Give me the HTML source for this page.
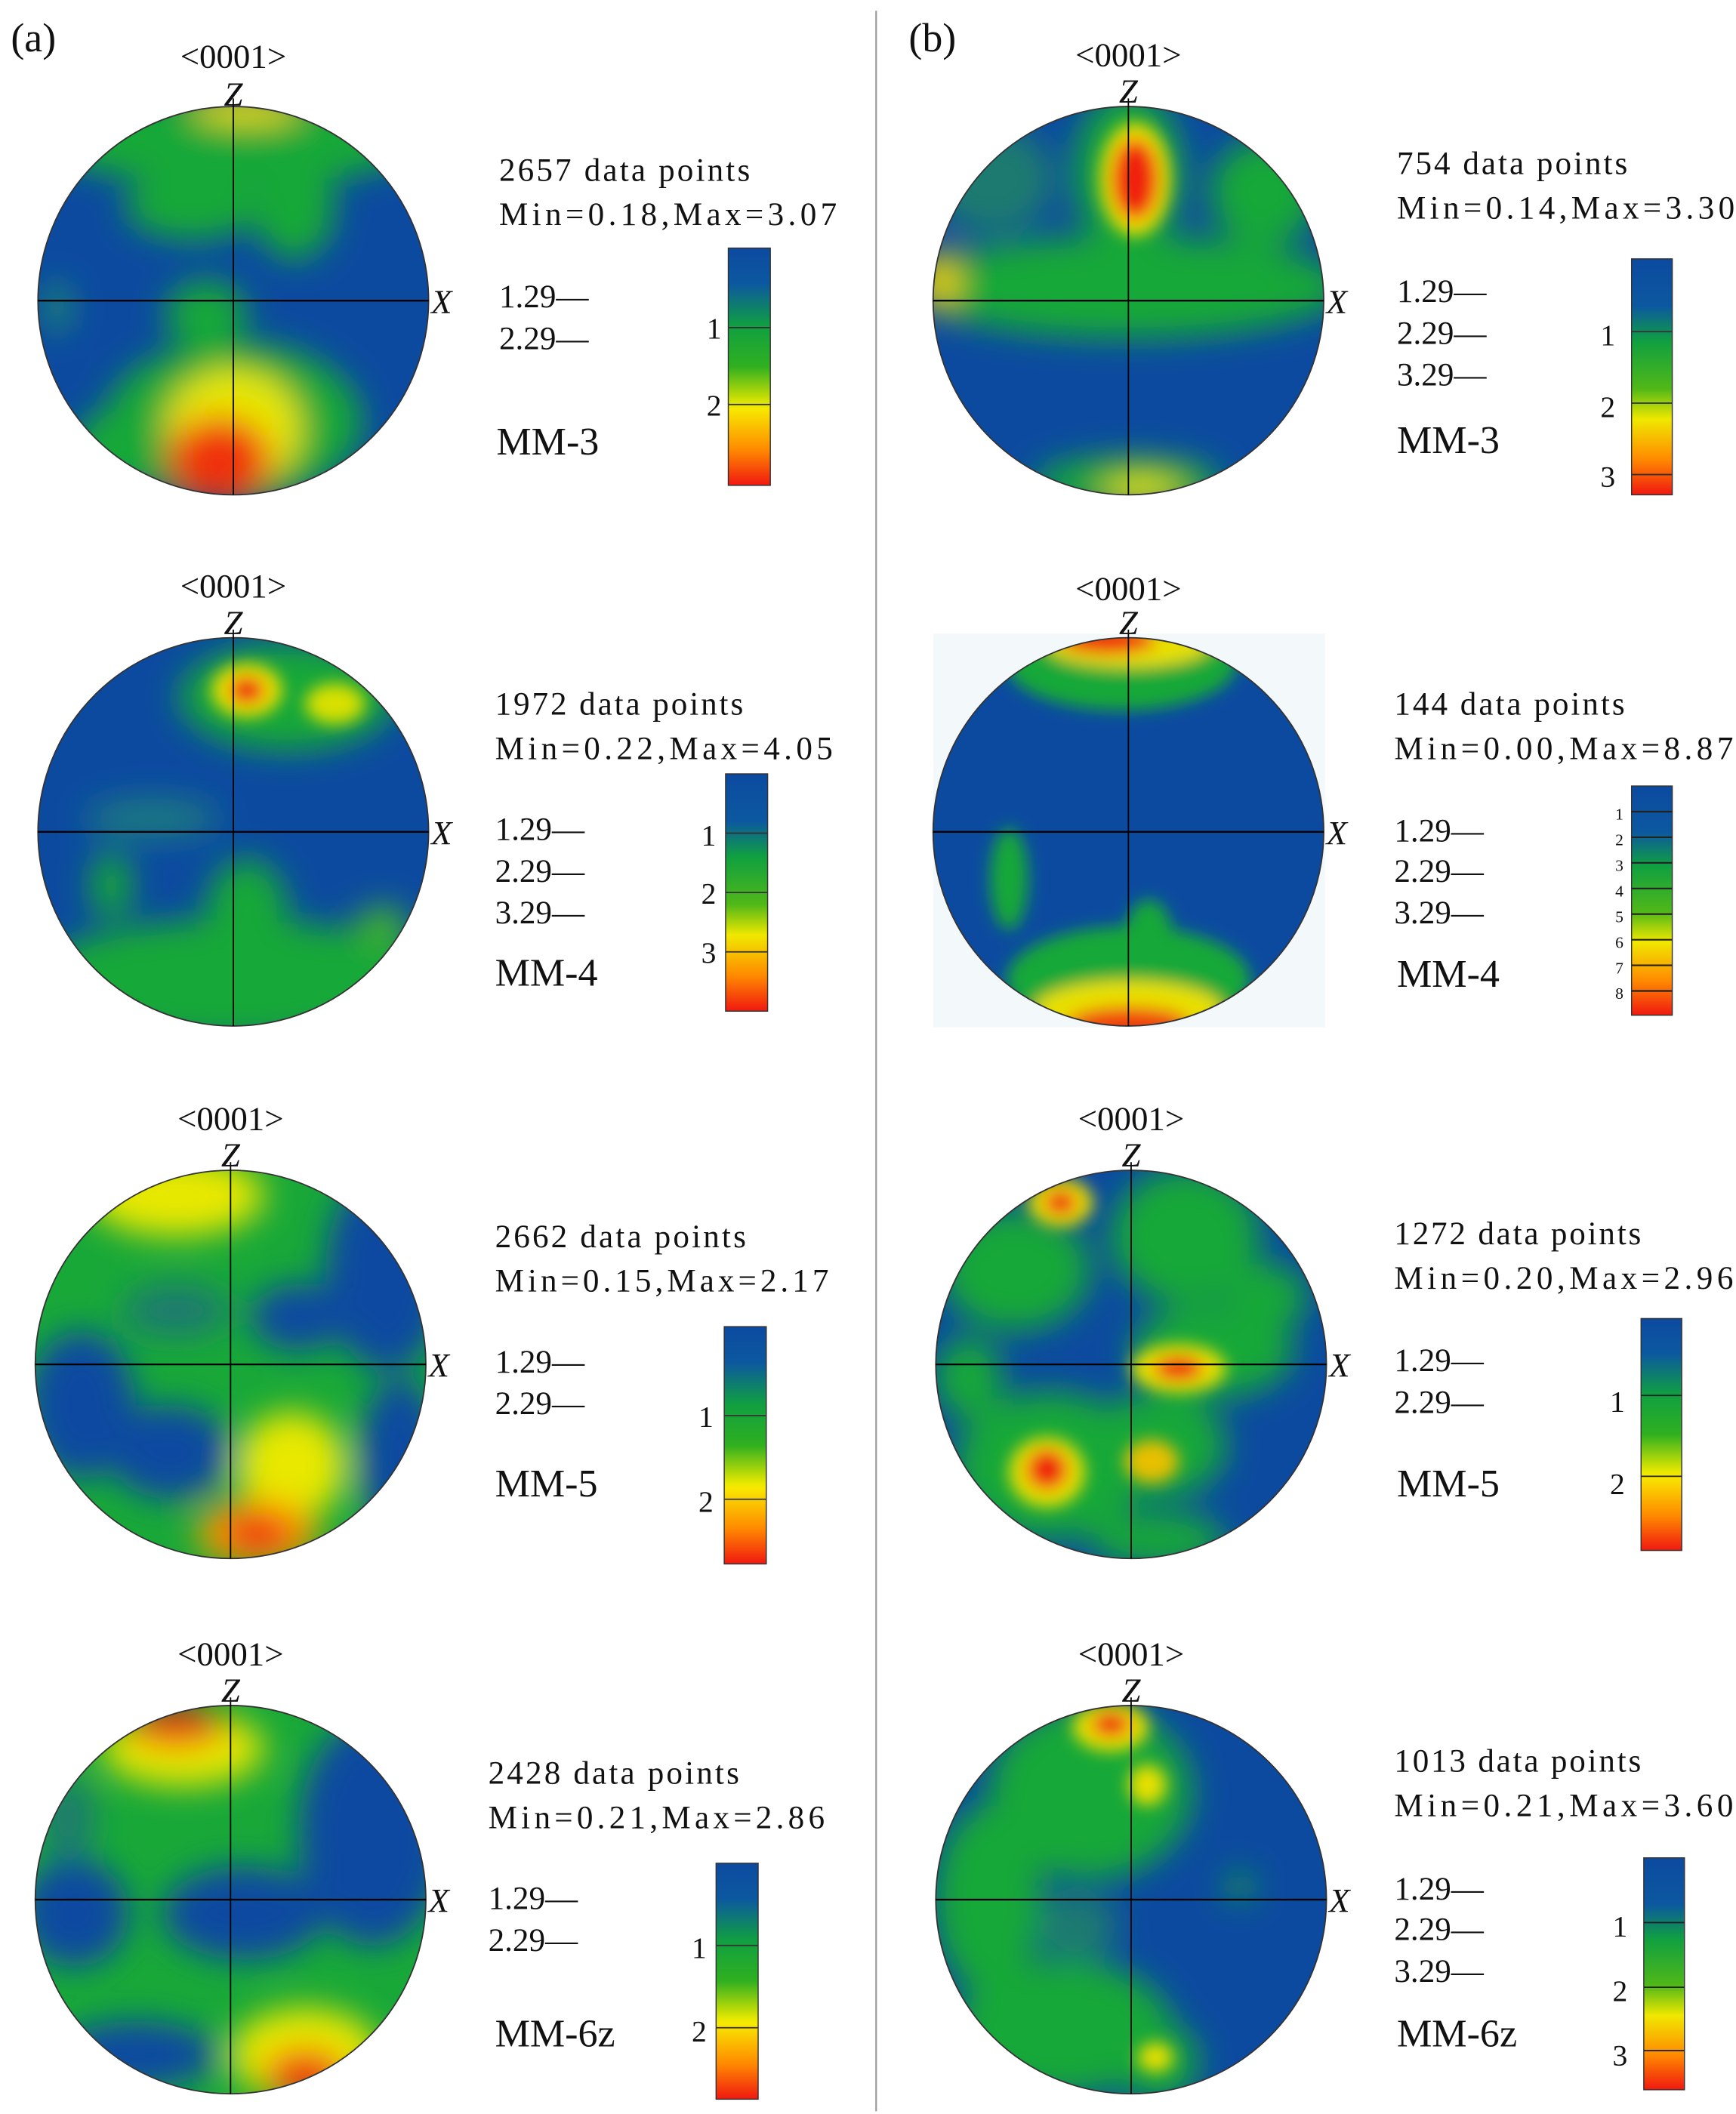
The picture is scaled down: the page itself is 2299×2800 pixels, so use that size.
<!DOCTYPE html>
<html><head><meta charset="utf-8"><style>
html,body{margin:0;padding:0;background:#fff}
svg{display:block}
text{font-family:"Liberation Serif",serif;fill:#111}
</style></head><body>
<svg width="2299" height="2800" viewBox="0 0 1280 1568" preserveAspectRatio="none" xmlns="http://www.w3.org/2000/svg">
<defs>
<filter id="bl" x="-50%" y="-50%" width="200%" height="200%"><feGaussianBlur stdDeviation="12"/></filter>
<filter id="bs" x="-50%" y="-50%" width="200%" height="200%"><feGaussianBlur stdDeviation="6"/></filter>
<clipPath id="cc"><circle cx="0" cy="0" r="144"/></clipPath>
<linearGradient id="cb" x1="0" y1="0" x2="0" y2="1">
<stop offset="0" stop-color="#0c4aa0"/><stop offset="0.15" stop-color="#0c58a0"/><stop offset="0.33" stop-color="#10a040"/><stop offset="0.5" stop-color="#30b020"/><stop offset="0.66" stop-color="#e8e800"/><stop offset="0.68" stop-color="#f8e800"/><stop offset="0.85" stop-color="#ff8a00"/><stop offset="1" stop-color="#f01810"/>
</linearGradient>
<linearGradient id="cb2" x1="0" y1="0" x2="0" y2="1">
<stop offset="0" stop-color="#0c4aa0"/><stop offset="0.2" stop-color="#0c58a0"/><stop offset="0.35" stop-color="#10a040"/><stop offset="0.55" stop-color="#50b818"/><stop offset="0.68" stop-color="#f0e800"/><stop offset="0.85" stop-color="#ff8a00"/><stop offset="1" stop-color="#f01810"/>
</linearGradient>
</defs>
<rect width="1280" height="1568" fill="#fff"/>
<line x1="646" y1="8" x2="646" y2="1566" stroke="#999" stroke-width="1.2"/>
<text x="8" y="38" font-size="30">(a)</text>
<text x="670" y="38" font-size="30">(b)</text>

<!-- a1 -->
<g transform="translate(172,223)"><g clip-path="url(#cc)">
<rect x="-150" y="-150" width="300" height="300" fill="#0c4aa0"/>
<g filter="url(#bl)">
<ellipse cx="0" cy="-120" rx="140" ry="35" fill="#18a838"/>
<ellipse cx="-30" cy="-70" rx="50" ry="25" fill="#18a838"/>
<ellipse cx="45" cy="-70" rx="30" ry="40" fill="#18a838"/>
<ellipse cx="-20" cy="10" rx="30" ry="25" fill="#18a838"/>
<ellipse cx="0" cy="90" rx="95" ry="60" fill="#18a838"/>
<ellipse cx="-80" cy="110" rx="40" ry="30" fill="#18a838"/>
<ellipse cx="-130" cy="5" rx="10" ry="20" fill="#1a8a70"/>
<ellipse cx="0" cy="95" rx="50" ry="45" fill="#e8e800"/>
<ellipse cx="-10" cy="118" rx="38" ry="32" fill="#f03010"/>
<ellipse cx="10" cy="-142" rx="40" ry="10" fill="#f0e000"/>
</g></g>
<circle r="144" fill="none" stroke="#333" stroke-width="1"/>
<line x1="-144" y1="0" x2="144" y2="0" stroke="#000" stroke-width="1.3"/><line x1="0" y1="-150" x2="0" y2="144" stroke="#000" stroke-width="1"/>
<text x="0" y="-173" font-size="25" text-anchor="middle">&lt;0001&gt;</text>
<text x="0" y="-145" font-size="25" font-style="italic" text-anchor="middle">Z</text>
<text x="146" y="9" font-size="25" font-style="italic">X</text></g>
<text x="368" y="134" font-size="24" textLength="185">2657 data points</text>
<text x="368" y="167" font-size="24" textLength="249">Min=0.18,Max=3.07</text>
<text x="368" y="228" font-size="24">1.29—</text><text x="368" y="259" font-size="24">2.29—</text>
<text x="366" y="337" font-size="29">MM-3</text>
<rect x="537" y="184" width="31" height="176" fill="url(#cb)" stroke="#333" stroke-width="0.8"/>
<line x1="537" y1="243" x2="568" y2="243" stroke="#333"/><line x1="537" y1="300" x2="568" y2="300" stroke="#333"/>
<text x="521" y="251" font-size="22">1</text><text x="521" y="308" font-size="22">2</text>

<!-- a2 -->
<g transform="translate(172,617)"><g clip-path="url(#cc)">
<rect x="-150" y="-150" width="300" height="300" fill="#0c4aa0"/>
<g filter="url(#bl)">
<ellipse cx="40" cy="-100" rx="80" ry="40" fill="#18a838"/>
<ellipse cx="0" cy="110" rx="150" ry="45" fill="#18a838"/>
<ellipse cx="10" cy="60" rx="30" ry="40" fill="#18a838"/>
<ellipse cx="-90" cy="40" rx="15" ry="25" fill="#18a838"/>
<ellipse cx="110" cy="70" rx="20" ry="15" fill="#40b030"/>
<ellipse cx="-60" cy="-10" rx="50" ry="15" fill="#1a7a80"/>
</g>
<g filter="url(#bs)">
<ellipse cx="10" cy="-105" rx="26" ry="20" fill="#e8e000"/>
<ellipse cx="75" cy="-95" rx="22" ry="15" fill="#d8e000"/>
<ellipse cx="10" cy="-105" rx="13" ry="10" fill="#f02010"/>
</g></g>
<circle r="144" fill="none" stroke="#333" stroke-width="1"/>
<line x1="-144" y1="0" x2="144" y2="0" stroke="#000" stroke-width="1.3"/><line x1="0" y1="-150" x2="0" y2="144" stroke="#000" stroke-width="1"/>
<text x="0" y="-174" font-size="25" text-anchor="middle">&lt;0001&gt;</text>
<text x="0" y="-147" font-size="25" font-style="italic" text-anchor="middle">Z</text>
<text x="146" y="9" font-size="25" font-style="italic">X</text></g>
<text x="365" y="530" font-size="24" textLength="183">1972 data points</text>
<text x="365" y="563" font-size="24" textLength="249">Min=0.22,Max=4.05</text>
<text x="365" y="623" font-size="24">1.29—</text><text x="365" y="654" font-size="24">2.29—</text><text x="365" y="685" font-size="24">3.29—</text>
<text x="365" y="731" font-size="29">MM-4</text>
<rect x="535" y="574" width="31" height="176" fill="url(#cb2)" stroke="#333" stroke-width="0.8"/>
<line x1="535" y1="618" x2="566" y2="618" stroke="#333"/><line x1="535" y1="662" x2="566" y2="662" stroke="#333"/><line x1="535" y1="706" x2="566" y2="706" stroke="#333"/>
<text x="517" y="627" font-size="22">1</text><text x="517" y="670" font-size="22">2</text><text x="517" y="714" font-size="22">3</text>

<!-- a3 -->
<g transform="translate(170,1012)"><g clip-path="url(#cc)">
<rect x="-150" y="-150" width="300" height="300" fill="#18a838"/>
<g filter="url(#bl)">
<ellipse cx="115" cy="-70" rx="45" ry="75" fill="#0c4aa0"/>
<ellipse cx="-110" cy="30" rx="40" ry="55" fill="#0c4aa0"/>
<ellipse cx="-45" cy="65" rx="45" ry="35" fill="#0c4aa0"/>
<ellipse cx="125" cy="70" rx="30" ry="60" fill="#0c4aa0"/>
<ellipse cx="50" cy="-35" rx="35" ry="25" fill="#0c4aa0"/>
<ellipse cx="-40" cy="-40" rx="40" ry="20" fill="#1a7a70"/>
<ellipse cx="-40" cy="-125" rx="65" ry="30" fill="#e8e800"/>
<ellipse cx="45" cy="75" rx="40" ry="40" fill="#e8e800"/>
<ellipse cx="20" cy="125" rx="45" ry="25" fill="#f8a000"/>
<ellipse cx="20" cy="125" rx="25" ry="15" fill="#f02010"/>
</g></g>
<circle r="144" fill="none" stroke="#333" stroke-width="1"/>
<line x1="-144" y1="0" x2="144" y2="0" stroke="#000" stroke-width="1.3"/><line x1="0" y1="-150" x2="0" y2="144" stroke="#000" stroke-width="1"/>
<text x="0" y="-174" font-size="25" text-anchor="middle">&lt;0001&gt;</text>
<text x="0" y="-147" font-size="25" font-style="italic" text-anchor="middle">Z</text>
<text x="146" y="9" font-size="25" font-style="italic">X</text></g>
<text x="365" y="925" font-size="24" textLength="185">2662 data points</text>
<text x="365" y="958" font-size="24" textLength="246">Min=0.15,Max=2.17</text>
<text x="365" y="1018" font-size="24">1.29—</text><text x="365" y="1049" font-size="24">2.29—</text>
<text x="365" y="1110" font-size="29">MM-5</text>
<rect x="534" y="984" width="31" height="176" fill="url(#cb)" stroke="#333" stroke-width="0.8"/>
<line x1="534" y1="1050" x2="565" y2="1050" stroke="#333"/><line x1="534" y1="1112" x2="565" y2="1112" stroke="#333"/>
<text x="515" y="1058" font-size="22">1</text><text x="515" y="1121" font-size="22">2</text>

<!-- a4 -->
<g transform="translate(170,1409)"><g clip-path="url(#cc)">
<rect x="-150" y="-150" width="300" height="300" fill="#18a838"/>
<g filter="url(#bl)">
<ellipse cx="105" cy="-50" rx="55" ry="85" fill="#0c4aa0"/>
<ellipse cx="-115" cy="10" rx="40" ry="40" fill="#0c4aa0"/>
<ellipse cx="10" cy="10" rx="60" ry="35" fill="#0c4aa0"/>
<ellipse cx="-70" cy="115" rx="60" ry="25" fill="#0c4aa0"/>
<ellipse cx="-120" cy="-60" rx="20" ry="30" fill="#1a7a70"/>
<ellipse cx="-35" cy="-112" rx="60" ry="28" fill="#e8e800"/>
<ellipse cx="-40" cy="-128" rx="35" ry="14" fill="#f02010"/>
<ellipse cx="55" cy="115" rx="55" ry="35" fill="#e8e800"/>
<ellipse cx="55" cy="130" rx="30" ry="18" fill="#f02010"/>
</g></g>
<circle r="144" fill="none" stroke="#333" stroke-width="1"/>
<line x1="-144" y1="0" x2="144" y2="0" stroke="#000" stroke-width="1.3"/><line x1="0" y1="-150" x2="0" y2="144" stroke="#000" stroke-width="1"/>
<text x="0" y="-174" font-size="25" text-anchor="middle">&lt;0001&gt;</text>
<text x="0" y="-147" font-size="25" font-style="italic" text-anchor="middle">Z</text>
<text x="146" y="9" font-size="25" font-style="italic">X</text></g>
<text x="360" y="1323" font-size="24" textLength="185">2428 data points</text>
<text x="360" y="1356" font-size="24" textLength="248">Min=0.21,Max=2.86</text>
<text x="360" y="1416" font-size="24">1.29—</text><text x="360" y="1447" font-size="24">2.29—</text>
<text x="365" y="1518" font-size="29">MM-6z</text>
<rect x="528" y="1382" width="31" height="175" fill="url(#cb)" stroke="#333" stroke-width="0.8"/>
<line x1="528" y1="1443" x2="559" y2="1443" stroke="#333"/><line x1="528" y1="1504" x2="559" y2="1504" stroke="#333"/>
<text x="510" y="1452" font-size="22">1</text><text x="510" y="1514" font-size="22">2</text>

<!-- b1 -->
<g transform="translate(832,223)"><g clip-path="url(#cc)">
<rect x="-150" y="-150" width="300" height="300" fill="#0c4aa0"/>
<g filter="url(#bl)">
<ellipse cx="0" cy="-10" rx="160" ry="38" fill="#18a838"/>
<ellipse cx="0" cy="-95" rx="40" ry="60" fill="#18a838"/>
<ellipse cx="-100" cy="-90" rx="45" ry="40" fill="#1a7a70"/>
<ellipse cx="100" cy="-80" rx="40" ry="40" fill="#18a838"/>
<ellipse cx="0" cy="135" rx="70" ry="20" fill="#18a838"/>
<ellipse cx="-140" cy="-15" rx="15" ry="22" fill="#e8d000"/>
<ellipse cx="10" cy="140" rx="30" ry="10" fill="#e8e800"/>
</g>
<g filter="url(#bs)">
<ellipse cx="5" cy="-90" rx="26" ry="42" fill="#f0e000"/>
<ellipse cx="5" cy="-90" rx="17" ry="30" fill="#f02010"/>
</g></g>
<circle r="144" fill="none" stroke="#333" stroke-width="1"/>
<line x1="-144" y1="0" x2="144" y2="0" stroke="#000" stroke-width="1.3"/><line x1="0" y1="-150" x2="0" y2="144" stroke="#000" stroke-width="1"/>
<text x="0" y="-174" font-size="25" text-anchor="middle">&lt;0001&gt;</text>
<text x="0" y="-147" font-size="25" font-style="italic" text-anchor="middle">Z</text>
<text x="146" y="9" font-size="25" font-style="italic">X</text></g>
<text x="1030" y="129" font-size="24" textLength="170">754 data points</text>
<text x="1030" y="162" font-size="24" textLength="249">Min=0.14,Max=3.30</text>
<text x="1030" y="224" font-size="24">1.29—</text><text x="1030" y="255" font-size="24">2.29—</text><text x="1030" y="286" font-size="24">3.29—</text>
<text x="1030" y="336" font-size="29">MM-3</text>
<rect x="1203" y="192" width="30" height="175" fill="url(#cb2)" stroke="#333" stroke-width="0.8"/>
<line x1="1203" y1="246" x2="1233" y2="246" stroke="#333"/><line x1="1203" y1="299" x2="1233" y2="299" stroke="#333"/><line x1="1203" y1="352" x2="1233" y2="352" stroke="#333"/>
<text x="1180" y="256" font-size="22">1</text><text x="1180" y="309" font-size="22">2</text><text x="1180" y="361" font-size="22">3</text>

<!-- b2 -->
<rect x="688" y="470" width="289" height="292" fill="#f3f8fa"/>
<g transform="translate(832,617)"><g clip-path="url(#cc)">
<rect x="-150" y="-150" width="300" height="300" fill="#0c4aa0"/>
<g filter="url(#bs)">
<ellipse cx="-5" cy="-125" rx="85" ry="35" fill="#18a838"/>
<ellipse cx="0" cy="-138" rx="60" ry="16" fill="#e8e000"/>
<ellipse cx="-15" cy="-142" rx="35" ry="10" fill="#f02010"/>
<ellipse cx="0" cy="110" rx="90" ry="40" fill="#18a838"/>
<ellipse cx="15" cy="80" rx="18" ry="30" fill="#18a838"/>
<ellipse cx="0" cy="132" rx="70" ry="22" fill="#e8e000"/>
<ellipse cx="0" cy="142" rx="45" ry="12" fill="#f04010"/>
<ellipse cx="-88" cy="35" rx="14" ry="38" fill="#18a838"/>
</g></g>
<circle r="144" fill="none" stroke="#333" stroke-width="1"/>
<line x1="-144" y1="0" x2="144" y2="0" stroke="#000" stroke-width="1.3"/><line x1="0" y1="-150" x2="0" y2="144" stroke="#000" stroke-width="1"/>
<text x="0" y="-172" font-size="25" text-anchor="middle">&lt;0001&gt;</text>
<text x="0" y="-147" font-size="25" font-style="italic" text-anchor="middle">Z</text>
<text x="146" y="9" font-size="25" font-style="italic">X</text></g>
<text x="1028" y="530" font-size="24" textLength="170">144 data points</text>
<text x="1028" y="563" font-size="24" textLength="250">Min=0.00,Max=8.87</text>
<text x="1028" y="624" font-size="24">1.29—</text><text x="1028" y="654" font-size="24">2.29—</text><text x="1028" y="685" font-size="24">3.29—</text>
<text x="1030" y="732" font-size="29">MM-4</text>
<rect x="1203" y="583" width="30" height="170" fill="url(#cb2)" stroke="#333" stroke-width="0.8"/>
<g stroke="#222" stroke-width="1.2"><line x1="1203" y1="602" x2="1233" y2="602"/><line x1="1203" y1="621" x2="1233" y2="621"/><line x1="1203" y1="640" x2="1233" y2="640"/><line x1="1203" y1="659" x2="1233" y2="659"/><line x1="1203" y1="678" x2="1233" y2="678"/><line x1="1203" y1="697" x2="1233" y2="697"/><line x1="1203" y1="716" x2="1233" y2="716"/><line x1="1203" y1="735" x2="1233" y2="735"/></g>
<g font-size="12"><text x="1191" y="608">1</text><text x="1191" y="627">2</text><text x="1191" y="646">3</text><text x="1191" y="665">4</text><text x="1191" y="684">5</text><text x="1191" y="703">6</text><text x="1191" y="722">7</text><text x="1191" y="741">8</text></g>

<!-- b3 -->
<g transform="translate(834,1012)"><g clip-path="url(#cc)">
<rect x="-150" y="-150" width="300" height="300" fill="#0c4aa0"/>
<g filter="url(#bl)">
<ellipse cx="-85" cy="-70" rx="55" ry="45" fill="#18a838"/>
<ellipse cx="40" cy="-95" rx="55" ry="50" fill="#18a838"/>
<ellipse cx="-60" cy="75" rx="70" ry="55" fill="#18a838"/>
<ellipse cx="20" cy="60" rx="50" ry="40" fill="#18a838"/>
<ellipse cx="60" cy="-10" rx="60" ry="35" fill="#18a838"/>
<ellipse cx="100" cy="-50" rx="30" ry="25" fill="#18a838"/>
<ellipse cx="20" cy="130" rx="50" ry="20" fill="#18a838"/>
<ellipse cx="-120" cy="10" rx="25" ry="30" fill="#18a838"/>
</g>
<g filter="url(#bs)">
<ellipse cx="-52" cy="-120" rx="24" ry="18" fill="#e8e000"/>
<ellipse cx="-52" cy="-120" rx="12" ry="9" fill="#f02010"/>
<ellipse cx="35" cy="3" rx="35" ry="18" fill="#e8e000"/>
<ellipse cx="35" cy="3" rx="18" ry="9" fill="#f02010"/>
<ellipse cx="-62" cy="80" rx="28" ry="26" fill="#e8e000"/>
<ellipse cx="-62" cy="78" rx="15" ry="15" fill="#f02010"/>
<ellipse cx="15" cy="72" rx="20" ry="16" fill="#e8c000"/>
</g></g>
<circle r="144" fill="none" stroke="#333" stroke-width="1"/>
<line x1="-144" y1="0" x2="144" y2="0" stroke="#000" stroke-width="1.3"/><line x1="0" y1="-150" x2="0" y2="144" stroke="#000" stroke-width="1"/>
<text x="0" y="-174" font-size="25" text-anchor="middle">&lt;0001&gt;</text>
<text x="0" y="-147" font-size="25" font-style="italic" text-anchor="middle">Z</text>
<text x="146" y="9" font-size="25" font-style="italic">X</text></g>
<text x="1028" y="923" font-size="24" textLength="182">1272 data points</text>
<text x="1028" y="956" font-size="24" textLength="250">Min=0.20,Max=2.96</text>
<text x="1028" y="1017" font-size="24">1.29—</text><text x="1028" y="1048" font-size="24">2.29—</text>
<text x="1030" y="1110" font-size="29">MM-5</text>
<rect x="1210" y="978" width="30" height="172" fill="url(#cb)" stroke="#333" stroke-width="0.8"/>
<line x1="1210" y1="1035" x2="1240" y2="1035" stroke="#222"/><line x1="1210" y1="1095" x2="1240" y2="1095" stroke="#222"/>
<text x="1187" y="1047" font-size="22">1</text><text x="1187" y="1108" font-size="22">2</text>

<!-- b4 -->
<g transform="translate(834,1409)"><g clip-path="url(#cc)">
<rect x="-150" y="-150" width="300" height="300" fill="#0c4aa0"/>
<g filter="url(#bl)">
<ellipse cx="-30" cy="-80" rx="75" ry="65" fill="#18a838"/>
<ellipse cx="-105" cy="0" rx="40" ry="70" fill="#18a838"/>
<ellipse cx="-50" cy="95" rx="80" ry="50" fill="#18a838"/>
<ellipse cx="20" cy="120" rx="30" ry="30" fill="#18a838"/>
<ellipse cx="-40" cy="20" rx="30" ry="25" fill="#1a7a70"/>
<ellipse cx="80" cy="-10" rx="10" ry="10" fill="#18a838"/>
</g>
<g filter="url(#bs)">
<ellipse cx="-15" cy="-128" rx="28" ry="18" fill="#e8e000"/>
<ellipse cx="-15" cy="-130" rx="14" ry="9" fill="#f02010"/>
<ellipse cx="12" cy="-85" rx="14" ry="15" fill="#e8e000"/>
<ellipse cx="18" cy="117" rx="13" ry="11" fill="#e8e000"/>
</g></g>
<circle r="144" fill="none" stroke="#333" stroke-width="1"/>
<line x1="-144" y1="0" x2="144" y2="0" stroke="#000" stroke-width="1.3"/><line x1="0" y1="-150" x2="0" y2="144" stroke="#000" stroke-width="1"/>
<text x="0" y="-174" font-size="25" text-anchor="middle">&lt;0001&gt;</text>
<text x="0" y="-147" font-size="25" font-style="italic" text-anchor="middle">Z</text>
<text x="146" y="9" font-size="25" font-style="italic">X</text></g>
<text x="1028" y="1314" font-size="24" textLength="182">1013 data points</text>
<text x="1028" y="1347" font-size="24" textLength="250">Min=0.21,Max=3.60</text>
<text x="1028" y="1409" font-size="24">1.29—</text><text x="1028" y="1439" font-size="24">2.29—</text><text x="1028" y="1470" font-size="24">3.29—</text>
<text x="1030" y="1518" font-size="29">MM-6z</text>
<rect x="1212" y="1378" width="30" height="172" fill="url(#cb2)" stroke="#333" stroke-width="0.8"/>
<line x1="1212" y1="1426" x2="1242" y2="1426" stroke="#222"/><line x1="1212" y1="1474" x2="1242" y2="1474" stroke="#222"/><line x1="1212" y1="1521" x2="1242" y2="1521" stroke="#222"/>
<text x="1189" y="1436" font-size="22">1</text><text x="1189" y="1484" font-size="22">2</text><text x="1189" y="1532" font-size="22">3</text>
</svg>
</body></html>
